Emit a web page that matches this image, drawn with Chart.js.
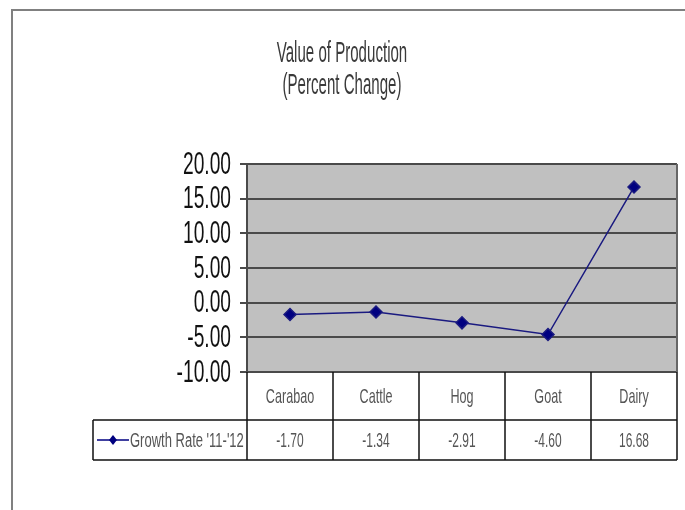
<!DOCTYPE html>
<html>
<head>
<meta charset="utf-8">
<script src="https://cdn.jsdelivr.net/npm/chart.js@4/dist/chart.umd.min.js"></script>
<style>
  html, body { margin: 0; padding: 0; background: #fff; }
  #wrap { width: 685px; height: 510px; }
</style>
</head>
<body>
<div id="wrap"><canvas id="chart" width="685" height="510"></canvas></div>
<script>
const categories = ["Carabao", "Cattle", "Hog", "Goat", "Dairy"];
const growthRate = [-1.70, -1.34, -2.91, -4.60, 16.68];
const seriesName = "Growth Rate '11-'12";
const titleLines = ["Value of Production", "(Percent Change)"];

const FONT = "'Liberation Sans', Arial, sans-serif";

// texte étroit (police type Arial Narrow, étirée verticalement)
function narrowText(ctx, text, x, y, size, sx, align, color) {
  ctx.save();
  ctx.translate(x, y);
  ctx.scale(sx, 1);
  ctx.font = size + "px " + FONT;
  ctx.fillStyle = color;
  ctx.textAlign = align;
  ctx.textBaseline = "middle";
  ctx.fillText(text, 0, 0);
  ctx.restore();
}

// fond gris de la zone de tracé + cadre extérieur
const backdrop = {
  id: "backdrop",
  beforeDraw(chart) {
    const { ctx, chartArea: a } = chart;
    ctx.save();
    ctx.fillStyle = "#c0c0c0";
    ctx.fillRect(a.left, a.top, a.right - a.left, a.bottom - a.top);
    ctx.strokeStyle = "#808080";
    ctx.lineWidth = 2;
    ctx.strokeRect(12, 10, 700, 520);
    ctx.restore();
  },
};

// titre, étiquettes de l'axe Y et tableau de données
const dataTable = {
  id: "dataTable",
  afterDraw(chart) {
    const { ctx, chartArea: a } = chart;
    const x = chart.scales.x;
    const y = chart.scales.y;
    const step = (a.right - a.left) / categories.length;
    const rowTop = a.bottom;
    const rowMid = a.bottom + 48;
    const rowBot = a.bottom + 88;
    const legendLeft = 93;

    narrowText(ctx, titleLines[0], 342, 54, 29, 0.52, "center", "#3a3a3a");
    narrowText(ctx, titleLines[1], 342, 86, 29, 0.52, "center", "#3a3a3a");

    y.ticks.forEach((t) => {
      narrowText(ctx, t.value.toFixed(2), 231, y.getPixelForValue(t.value) + 1, 32, 0.6, "right", "#111");
    });

    ctx.save();
    // bordure droite de la zone de tracé
    ctx.strokeStyle = "#666";
    ctx.lineWidth = 2;
    ctx.beginPath();
    ctx.moveTo(a.right, a.top);
    ctx.lineTo(a.right, a.bottom);
    ctx.stroke();

    ctx.strokeStyle = "#111";
    ctx.lineWidth = 1.5;
    ctx.beginPath();
    for (let i = 0; i <= categories.length; i++) {
      const lx = a.left + i * step;
      ctx.moveTo(lx, rowTop);
      ctx.lineTo(lx, rowBot);
    }
    ctx.moveTo(legendLeft, rowMid);
    ctx.lineTo(a.right, rowMid);
    ctx.moveTo(legendLeft, rowBot);
    ctx.lineTo(a.right, rowBot);
    ctx.moveTo(legendLeft, rowMid);
    ctx.lineTo(legendLeft, rowBot);
    ctx.stroke();
    ctx.restore();

    categories.forEach((c, i) => {
      const cx = x.getPixelForValue(i);
      narrowText(ctx, c, cx, (rowTop + rowMid) / 2 + 1, 21, 0.6, "center", "#555");
      narrowText(ctx, growthRate[i].toFixed(2), cx, (rowMid + rowBot) / 2 + 1, 20, 0.6, "center", "#555");
    });

    // symbole de légende
    const ly = (rowMid + rowBot) / 2;
    ctx.save();
    ctx.strokeStyle = "#000080";
    ctx.lineWidth = 1.5;
    ctx.beginPath();
    ctx.moveTo(97, ly);
    ctx.lineTo(129, ly);
    ctx.stroke();
    ctx.fillStyle = "#000080";
    ctx.beginPath();
    ctx.moveTo(113, ly - 5);
    ctx.lineTo(117, ly);
    ctx.lineTo(113, ly + 5);
    ctx.lineTo(109, ly);
    ctx.closePath();
    ctx.fill();
    ctx.restore();
    narrowText(ctx, seriesName, 130, ly + 1, 20, 0.65, "left", "#555");
  },
};

new Chart(document.getElementById("chart"), {
  type: "line",
  data: {
    labels: categories,
    datasets: [
      {
        label: seriesName,
        data: growthRate,
        borderColor: "#1a1a80",
        backgroundColor: "#000080",
        borderWidth: 1.5,
        pointStyle: "rectRot",
        pointRadius: 6,
        pointHoverRadius: 6,
        tension: 0,
      },
    ],
  },
  options: {
    responsive: false,
    animation: false,
    layout: { padding: { top: 164, right: 8, bottom: 138, left: 0 } },
    plugins: {
      legend: { display: false },
      title: { display: false },
      tooltip: { enabled: false },
    },
    scales: {
      x: {
        display: false,
        offset: true,
      },
      y: {
        min: -10,
        max: 20,
        afterFit(scale) {
          scale.width = 247;
        },
        ticks: {
          stepSize: 5,
          display: false,
        },
        grid: {
          color: "#4a4a4a",
          lineWidth: 2,
          tickLength: 7,
        },
        border: { color: "#4a4a4a", width: 2 },
      },
    },
  },
  plugins: [backdrop, dataTable],
});
</script>
</body>
</html>
